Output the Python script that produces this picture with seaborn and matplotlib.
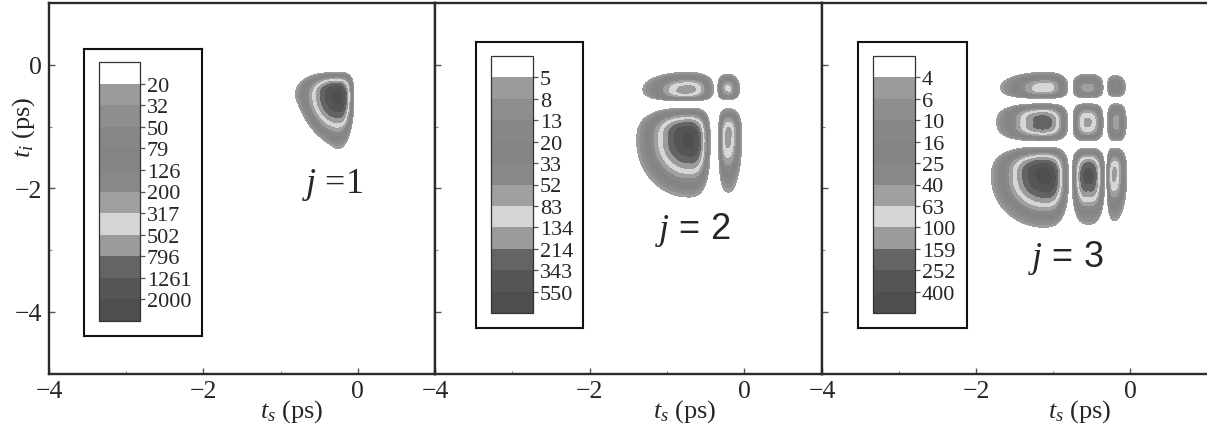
import numpy as np
import matplotlib
matplotlib.use("Agg")
import matplotlib.pyplot as plt
import seaborn as sns
from matplotlib.ticker import FixedLocator

# ---------------- data ----------------
levels_j1 = [20, 32, 50, 79, 126, 200, 317, 502, 796, 1261, 2000]
levels_j2 = [5, 8, 13, 20, 33, 52, 83, 134, 214, 343, 550]
levels_j3 = [4, 6, 10, 16, 25, 40, 63, 100, 159, 252, 400]
band_colors = ["#ffffff", "#9b9b9b", "#8e8e8e", "#878787", "#848484", "#888888",
               "#a0a0a0", "#d6d6d6", "#9b9b9b", "#646464", "#555555", "#4e4e4e"]

# j = 1 : one lobe (visible extents, centre, peak)
j1_ts_lo, j1_ts_hi = [-0.81], [-0.05]
j1_ti_lo, j1_ti_hi = [-1.36], [-0.12]
j1_ts_c, j1_ti_c = [-0.27], [-0.52]
j1_peak = [2300]

# j = 2 : 2 x 2 lobes  (TL, TR, BL, BR), visible extents, centres, peaks
j2_ts_lo = [-1.31, -0.34, -1.39, -0.33]
j2_ts_hi = [-0.40, -0.06, -0.44, -0.03]
j2_ti_lo = [-0.58, -0.56, -2.14, -2.06]
j2_ti_hi = [-0.12, -0.15, -0.70, -0.71]
j2_ts_c = [-0.76, -0.20, -0.72, -0.20]
j2_ti_c = [-0.39, -0.37, -1.23, -1.17]
j2_peak = [170, 92, 620, 165]

# j = 3 : 3 x 3 lobes (TL, TM, TR, ML, MM, MR, BL, BM, BR)
j3_ts_lo = [-1.68, -0.74, -0.29, -1.73, -0.74, -0.29, -1.80, -0.75, -0.30]
j3_ts_hi = [-0.81, -0.35, -0.06, -0.81, -0.35, -0.05, -0.80, -0.33, -0.04]
j3_ti_lo = [-0.54, -0.53, -0.51, -1.23, -1.23, -1.23, -2.63, -2.58, -2.52]
j3_ti_hi = [-0.12, -0.15, -0.17, -0.63, -0.63, -0.63, -1.33, -1.35, -1.35]
j3_ts_c = [-1.12, -0.55, -0.18, -1.13, -0.55, -0.17, -1.12, -0.54, -0.20]
j3_ti_c = [-0.36, -0.36, -0.34, -0.93, -0.93, -0.93, -1.82, -1.80, -1.78]
j3_peak = [88, 50, 26, 210, 108, 48, 480, 300, 112]

mode_labels = ["1", "2", "3"]
x_ticks = [-4, -2, 0]
y_ticks = [0, -2, -4]

# ---------------- style ----------------
sns.set_theme(style="ticks")
plt.rcParams["font.family"] = ["Liberation Serif", "DejaVu Serif"]
plt.rcParams["mathtext.fontset"] = "custom"
plt.rcParams["mathtext.it"] = "Liberation Serif:italic"
plt.rcParams["mathtext.rm"] = "Liberation Serif"
plt.rcParams["axes.unicode_minus"] = True

# side shape: (squareness p, fall-off q) for sides facing a node / facing outside
NODE = (3.5, 2.6)
OUTER = (2.0, 1.6)

ts = np.linspace(-2.6, 0.4, 900)
ti = np.linspace(-3.2, 0.4, 1000)
TS, TI = np.meshgrid(ts, ti)


def lobe(xlo, xhi, ylo, yhi, xc, yc, peak, t0, sides):
    sl, sr, sb, st = sides
    lnt = np.log(t0 / peak)
    right = TS >= xc
    top = TI >= yc
    dx = np.where(right, (TS - xc) / (xhi - xc), (xc - TS) / (xc - xlo))
    dy = np.where(top, (TI - yc) / (yhi - yc), (yc - TI) / (yc - ylo))
    px = np.where(right, sr[0], sl[0])
    py = np.where(top, st[0], sb[0])
    qx = np.where(right, sr[1], sl[1])
    qy = np.where(top, st[1], sb[1])
    p_side = 0.5 * (px + py)
    E2 = np.sqrt(dx ** 2 + dy ** 2)
    p = 2.0 + (p_side - 2.0) * np.clip(E2, 0, 1) ** 2
    E = (dx ** p + dy ** p) ** (1 / p)
    w = dx ** 2 / (dx ** 2 + dy ** 2 + 1e-12)
    q = w * qx + (1 - w) * qy
    return peak * np.exp(lnt * E ** q)


def side_kind(k, lo_a, hi_a, lo_b, hi_b, upper):
    for m in range(len(lo_a)):
        if m == k:
            continue
        overlap = min(hi_b[k], hi_b[m]) - max(lo_b[k], lo_b[m]) > 0
        beyond = lo_a[m] >= hi_a[k] - 0.05 if upper else hi_a[m] <= lo_a[k] + 0.05
        if overlap and beyond:
            return NODE
    return OUTER


def field(ts_lo, ts_hi, ti_lo, ti_hi, ts_c, ti_c, peaks, t0, fixed=None):
    F = np.zeros_like(TS)
    for k in range(len(peaks)):
        if fixed is not None:
            sides = fixed
        else:
            sides = (side_kind(k, ts_lo, ts_hi, ti_lo, ti_hi, False),
                     side_kind(k, ts_lo, ts_hi, ti_lo, ti_hi, True),
                     side_kind(k, ti_lo, ti_hi, ts_lo, ts_hi, False),
                     side_kind(k, ti_lo, ti_hi, ts_lo, ts_hi, True))
        F = np.maximum(F, lobe(ts_lo[k], ts_hi[k], ti_lo[k], ti_hi[k],
                               ts_c[k], ti_c[k], peaks[k], t0, sides))
    return F


fields = [
    field(j1_ts_lo, j1_ts_hi, j1_ti_lo, j1_ti_hi, j1_ts_c, j1_ti_c, j1_peak, levels_j1[0],
          fixed=((1.4, 1.6), (3.5, 2.6), (0.9, 1.6), (3.5, 2.6))),
    field(j2_ts_lo, j2_ts_hi, j2_ti_lo, j2_ti_hi, j2_ts_c, j2_ti_c, j2_peak, levels_j2[0]),
    field(j3_ts_lo, j3_ts_hi, j3_ti_lo, j3_ti_hi, j3_ts_c, j3_ti_c, j3_peak, levels_j3[0]),
]
all_levels = [levels_j1, levels_j2, levels_j3]

# ---------------- figure ----------------
W, H = 1207, 427
fig = plt.figure(figsize=(W / 100, H / 100), dpi=100)

ax_px = [(49, 435), (435, 821.5), (822, 1207)]
top_px, bot_px = 4.3, 374.5
box_px = [(84, 202, 50, 337), (475.7, 583.3, 43.3, 329.3), (858.3, 967.3, 43.3, 329)]
cbar_px = [(99, 140, 63, 322), (491, 532.7, 56.7, 314.3), (873.3, 915, 56.7, 314.3)]
xlabel_pos = [0.63, 0.646, 0.67]
jtext_pos = [(-0.33, -1.93), (-0.66, -2.66), (-0.83, -3.11)]

spine_col = "#2b2b2b"

for i in range(3):
    x0, x1 = ax_px[i]
    ax = fig.add_axes([x0 / W, (H - bot_px) / H, (x1 - x0) / W, (bot_px - top_px) / H])
    lv = all_levels[i]
    full = [0] + lv + [lv[-1] * 1000]
    cs = ax.contourf(TS, TI, fields[i], levels=full, colors=band_colors, antialiased=False)
    ax.set_xlim(-4, 1)
    ax.set_ylim(-5, 1)
    ax.set_facecolor("white")
    for s in ax.spines.values():
        s.set_color(spine_col)
        s.set_linewidth(1.7)
    if i == 2:
        ax.spines["right"].set_visible(False)
    ax.xaxis.set_major_locator(FixedLocator(x_ticks))
    ax.xaxis.set_minor_locator(FixedLocator([-3, -1]))
    ax.yaxis.set_major_locator(FixedLocator(y_ticks))
    ax.yaxis.set_minor_locator(FixedLocator([-3, -1]))
    ax.tick_params(which="major", direction="in", length=4.5, width=1.0, color="#555555",
                   labelsize=18.5, pad=5, top=False, right=False)
    ax.tick_params(which="minor", direction="in", length=2.5, width=0.8, color="#888888",
                   top=False, right=False)
    ax.set_xticklabels([f"{v}".replace("-", "\u2212") for v in x_ticks])
    if i == 0:
        ax.set_yticklabels([f"{v}".replace("-", "\u2212") for v in y_ticks])
        ax.text(-0.067, 0.668, r"$t_i$ (ps)", transform=ax.transAxes, rotation=90,
                ha="center", va="center", fontsize=19)
    else:
        ax.tick_params(axis="y", labelleft=False)
    ax.text(xlabel_pos[i], -0.101, r"$t_s$ (ps)", transform=ax.transAxes,
            ha="center", va="center", fontsize=19)

    jx, jy = jtext_pos[i]
    if i == 0:
        ax.text(jx, jy, r"$j$ =" + mode_labels[i], ha="center", va="center", fontsize=26,
                family=["Liberation Serif"])
    else:
        ax.text(jx, jy, r"$j$ = " + mode_labels[i], ha="center", va="center", fontsize=26,
                family=["Liberation Sans"])

    # legend box with colour bar
    bx0, bx1, by0, by1 = box_px[i]
    bax = fig.add_axes([bx0 / W, (H - by1) / H, (bx1 - bx0) / W, (by1 - by0) / H])
    bax.set_xticks([])
    bax.set_yticks([])
    bax.set_facecolor("white")
    for s in bax.spines.values():
        s.set_color("#111111")
        s.set_linewidth(1.5)
    cx0, cx1, cy0, cy1 = cbar_px[i]
    cax = fig.add_axes([cx0 / W, (H - cy1) / H, (cx1 - cx0) / W, (cy1 - cy0) / H])
    cb = fig.colorbar(cs, cax=cax, ticks=lv)
    cb.outline.set_edgecolor("#333333")
    cb.outline.set_linewidth(0.9)
    cax.invert_yaxis()
    cax.set_yticklabels([str(v) for v in lv])
    cax.tick_params(axis="y", direction="out", length=3.5, width=0.9, color="#555555",
                    labelsize=16, pad=1.5)
    cax.minorticks_off()

fig.savefig("out.png", dpi=100)
